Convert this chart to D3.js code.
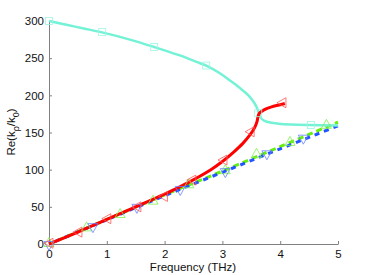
<!DOCTYPE html>
<html>
<head>
<meta charset="utf-8">
<script src="https://cdn.jsdelivr.net/npm/d3@7"></script>
<style>
  body { margin: 0; background: #fff; }
  text { font-family: "Liberation Sans", Arial, sans-serif; }
</style>
</head>
<body>
<svg id="chart" width="374" height="275"></svg>
<script>
// curves (frequency THz, Re(k_rho/k_0))
var cyanLine = [[0,300],[0.3,295],[0.6,290],[0.9,285],[1.4,275],[1.82,265],[2.25,254],[2.55,245],
  [2.72,240],[2.95,230],[3.13,220],[3.3,210],[3.45,200],[3.55,190],[3.61,181],[3.635,175],
  [3.66,170],[3.72,166],[3.85,163],[4.0,161.5],[4.5,160],[5,159.5]];
var redLine = [[0,0],[0.5,16],[1,33],[1.5,50],[2,67],[2.44,84],[2.8,100],[3.0,111],[3.2,124],
  [3.35,135],[3.48,147],[3.56,157],[3.6,165],[3.615,171],[3.64,176],[3.72,180.5],[3.85,184.5],
  [3.98,187],[4.08,189]];
var greenLine = [[0,0],[1,33],[2,66],[3,98],[4,131],[5,164]];
var blueLine = [[0,0],[1,32.5],[2,65],[3,96.5],[4,128],[5,159]];

// markers
var cyanMarks = [[0,300],[0.92,285],[1.82,265],[2.72,240],[3.62,176],[4.53,160]];
var redMarks = [[0,1],[0.5,16],[1,34],[1.52,50],[1.98,64],[2.47,86],[3.01,113],[3.48,151],[4.03,190]];
var greenMarks = [[0,2],[0.65,23],[1.23,41],[1.8,59],[2.42,81],[3.05,100],[3.59,122],[4.17,138],[4.8,161]];
var blueMarks = [[0,-2],[0.76,22],[1.52,48],[2.27,72],[3.05,96],[3.77,120],[4.4,141]];

var xTicks = [0, 1, 2, 3, 4, 5];
var yTicks = [0, 50, 100, 150, 200, 250, 300];

var svg = d3.select('#chart');
var x = d3.scaleLinear().domain([0, 5]).range([49, 338]);
var y = d3.scaleLinear().domain([0, 300]).range([244, 21]);

var line = d3.line()
  .x(function(d) { return x(d[0]); })
  .y(function(d) { return y(d[1]); })
  .curve(d3.curveCatmullRom.alpha(0.5));

// axes
var xAxis = svg.append('g').attr('transform', 'translate(0,244)')
  .call(d3.axisBottom(x).tickValues(xTicks).tickFormat(d3.format('d'))
    .tickSizeInner(-3).tickSizeOuter(0).tickPadding(6));
var yAxis = svg.append('g').attr('transform', 'translate(49,0)')
  .call(d3.axisLeft(y).tickValues(yTicks).tickFormat(d3.format('d'))
    .tickSizeInner(-3).tickSizeOuter(0).tickPadding(5));
[xAxis, yAxis].forEach(function(a) {
  a.select('.domain').attr('stroke', '#808080');
  a.selectAll('.tick line').attr('stroke', '#808080');
  a.selectAll('.tick text').attr('fill', '#111').style('font-size', '11.5px')
    .style('font-family', '"Liberation Sans", Arial, sans-serif');
});

svg.append('text')
  .attr('x', 193).attr('y', 271)
  .attr('text-anchor', 'middle')
  .style('font-size', '11.5px').attr('fill', '#111')
  .text('Frequency (THz)');

var yl = svg.append('text')
  .attr('transform', 'translate(15,132) rotate(-90)')
  .attr('text-anchor', 'middle')
  .style('font-size', '11.5px').attr('fill', '#111');
yl.append('tspan').text('Re(k');
yl.append('tspan').attr('dy', 4).style('font-size', '9px').text('ρ');
yl.append('tspan').attr('dy', -4).text('/k');
yl.append('tspan').attr('dy', 4).style('font-size', '9px').text('0');
yl.append('tspan').attr('dy', -4).text(')');

// lines
svg.append('path').datum(greenLine).attr('d', line)
  .attr('fill', 'none').attr('stroke', '#66ee11').attr('stroke-width', 3)
  .attr('stroke-dasharray', '6,4');
svg.append('path').datum(blueLine).attr('d', line)
  .attr('fill', 'none').attr('stroke', '#2255ff').attr('stroke-width', 3)
  .attr('stroke-dasharray', '5,5').attr('stroke-dashoffset', 3);
svg.append('path').datum(cyanLine).attr('d', line)
  .attr('fill', 'none').attr('stroke', '#74f2d6').attr('stroke-width', 2.5);
svg.append('path').datum(redLine).attr('d', line)
  .attr('fill', 'none').attr('stroke', '#ff0000').attr('stroke-width', 3);

// markers
function tri(dir, s) {
  if (dir === 'up') return 'M0,' + (-s) + 'L' + s + ',' + (s * 0.8) + 'L' + (-s) + ',' + (s * 0.8) + 'Z';
  if (dir === 'down') return 'M0,' + s + 'L' + s + ',' + (-s * 0.8) + 'L' + (-s) + ',' + (-s * 0.8) + 'Z';
  return 'M' + (-s) + ',0L' + (s * 0.8) + ',' + (-s) + 'L' + (s * 0.8) + ',' + s + 'Z';
}

svg.append('g').selectAll('rect').data(cyanMarks).enter().append('rect')
  .attr('x', function(d) { return x(d[0]) - 3.5; })
  .attr('y', function(d) { return y(d[1]) - 3.5; })
  .attr('width', 7).attr('height', 7)
  .attr('fill', 'none').attr('stroke', '#9ff5e2').attr('stroke-width', 0.8);

svg.append('g').selectAll('path').data(greenMarks).enter().append('path')
  .attr('transform', function(d) { return 'translate(' + x(d[0]) + ',' + y(d[1]) + ')'; })
  .attr('d', tri('up', 5))
  .attr('fill', 'none').attr('stroke', '#80f050').attr('stroke-width', 0.8);

svg.append('g').selectAll('path').data(blueMarks).enter().append('path')
  .attr('transform', function(d) { return 'translate(' + x(d[0]) + ',' + y(d[1]) + ')'; })
  .attr('d', tri('down', 5))
  .attr('fill', 'none').attr('stroke', '#6680ff').attr('stroke-width', 0.8);

svg.append('g').selectAll('path').data(redMarks).enter().append('path')
  .attr('transform', function(d) { return 'translate(' + x(d[0]) + ',' + y(d[1]) + ')'; })
  .attr('d', tri('left', 5))
  .attr('fill', 'none').attr('stroke', '#ff5555').attr('stroke-width', 0.8);
</script>
</body>
</html>
